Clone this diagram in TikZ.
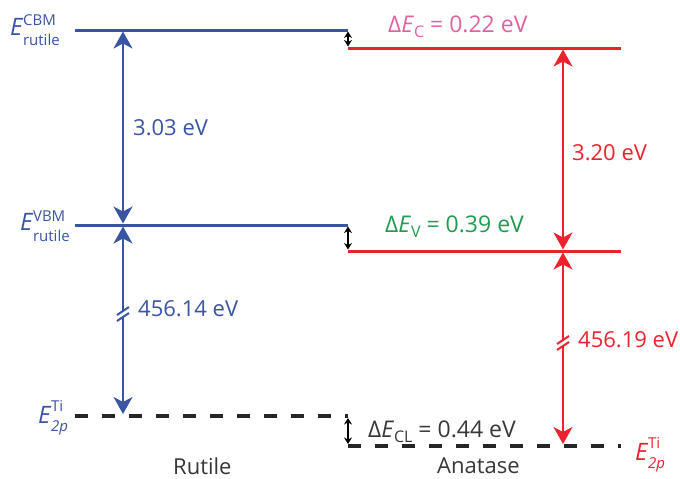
\documentclass[tikz,border=0pt]{standalone}
\usepackage{fontspec}
\setmainfont{Open Sans}
\usetikzlibrary{arrows.meta}
\definecolor{rblue}{RGB}{58,84,164}
\definecolor{ared}{RGB}{236,34,46}
\definecolor{cpink}{RGB}{222,98,160}
\definecolor{vgreen}{RGB}{34,154,80}
\definecolor{tgray}{RGB}{55,55,55}
\newcommand{\elab}[3]{{\fontsize{24}{26}\selectfont\itshape E}\hspace{0.5pt}\raisebox{-#3}{\fontsize{15}{20}\selectfont\begin{tabular}[b]{@{}l@{}}#1\\#2\end{tabular}}}
\newcommand{\dsub}[1]{\raisebox{-5pt}{\fontsize{16}{16}\selectfont #1}}
\tikzset{
 level/.style={line width=3pt},
 corelevel/.style={line width=3.5pt, dash pattern=on 13pt off 14pt, black!85},
 shaft/.style={line width=2pt},
 bothtips/.style={{Stealth[length=17pt,width=19pt,inset=5pt]}-{Stealth[length=17pt,width=19pt,inset=5pt]}},
 toptip/.style={{Stealth[length=17pt,width=19pt,inset=5pt]}-},
 bottip/.style={-{Stealth[length=17pt,width=19pt,inset=5pt]}},
 smallarrow/.style={line width=1.4pt, black, {Stealth[length=6.5pt,width=8pt]}-{Stealth[length=6.5pt,width=8pt]}},
 lbl/.style={font=\fontsize{22}{26}\selectfont, inner sep=0pt},
 dlbl/.style={font=\fontsize{23}{26}\selectfont, inner sep=0pt},
 brk/.style={line width=2pt},
}
\begin{document}
\begin{tikzpicture}[x=1pt,y=-1pt]
\useasboundingbox (0,0) rectangle (680,479);
% level coordinates
\coordinate (rcL) at (75,30);   \coordinate (rcR) at (348,30);
\coordinate (acL) at (348,48);  \coordinate (acR) at (621,48);
\coordinate (rvL) at (75,225);  \coordinate (rvR) at (348,225);
\coordinate (avL) at (348,251); \coordinate (avR) at (621,251);
\coordinate (rtL) at (75,416);  \coordinate (rtR) at (348,416);
\coordinate (atL) at (348,446); \coordinate (atR) at (621,446);
% levels
\draw[level, rblue] (rcL) -- (rcR);
\draw[level, ared] (acL) -- (acR);
\draw[level, rblue] (rvL) -- (rvR);
\draw[level, ared] (avL) -- (avR);
\draw[corelevel] (rtL) -- (rtR);
\draw[corelevel] (atL) -- (atR);
% small offset arrows
\coordinate (dc1) at (348,31.5); \coordinate (dc2) at (348,46.5);
\coordinate (dv1) at (348,226.5); \coordinate (dv2) at (348,249.5);
\coordinate (dl1) at (348,418); \coordinate (dl2) at (348,444);
\draw[smallarrow] (dc1) -- (dc2);
\draw[smallarrow] (dv1) -- (dv2);
\draw[smallarrow] (dl1) -- (dl2);
% rutile gap arrow
\coordinate (bA1) at (123,31.5); \coordinate (bA2) at (123,223.5);
\draw[shaft, rblue, bothtips] (bA1) -- (bA2);
% rutile core arrow with break
\coordinate (bB1) at (123,226.5); \coordinate (bB2) at (123,311);
\coordinate (bB3) at (123,317); \coordinate (bB4) at (123,414);
\draw[shaft, rblue, toptip] (bB1) -- (bB2);
\draw[shaft, rblue, bottip] (bB3) -- (bB4);
\coordinate (bs1a) at (117,315); \coordinate (bs1b) at (129,307);
\coordinate (bs2a) at (117,321); \coordinate (bs2b) at (129,313);
\draw[brk, rblue] (bs1a) -- (bs1b);
\draw[brk, rblue] (bs2a) -- (bs2b);
% anatase gap arrow
\coordinate (rA1) at (563,49.5); \coordinate (rA2) at (563,249.5);
\draw[shaft, ared, bothtips] (rA1) -- (rA2);
% anatase core arrow with break
\coordinate (rB1) at (563,252.5); \coordinate (rB2) at (563,340);
\coordinate (rB3) at (563,346); \coordinate (rB4) at (563,444);
\draw[shaft, ared, toptip] (rB1) -- (rB2);
\draw[shaft, ared, bottip] (rB3) -- (rB4);
\coordinate (rs1a) at (557,344); \coordinate (rs1b) at (569,336);
\coordinate (rs2a) at (557,350); \coordinate (rs2b) at (569,342);
\draw[brk, ared] (rs1a) -- (rs1b);
\draw[brk, ared] (rs2a) -- (rs2b);
% labels
\node[lbl, rblue, anchor=base west] (lcbm) at (10,35) {\elab{CBM}{rutile}{10pt}};
\node[lbl, rblue, anchor=base west] (lvbm) at (20,230) {\elab{VBM}{rutile}{11pt}};
\node[lbl, rblue, anchor=base west] (lti1) at (38,423) {\elab{Ti}{\itshape 2p}{8pt}};
\node[lbl, ared, anchor=base west] (lti2) at (635,460) {\elab{Ti}{\itshape 2p}{8pt}};
\node[lbl, rblue, anchor=base west] (l303) at (133,135) {3.03 eV};
\node[lbl, ared, anchor=base west] (l320) at (572,160) {3.20 eV};
\node[lbl, rblue, anchor=base west] (l45614) at (138,316) {456.14 eV};
\node[lbl, ared, anchor=base west] (l45619) at (578,347) {456.19 eV};
\node[dlbl, cpink, anchor=base west] (ldc) at (388,32) {Δ\textit{E}\dsub{C} = 0.22 eV};
\node[dlbl, vgreen, anchor=base west] (ldv) at (385,232) {Δ\textit{E}\dsub{V} = 0.39 eV};
\node[dlbl, tgray, anchor=base west] (ldcl) at (368,437) {Δ\textit{E}\dsub{CL} = 0.44 eV};
\node[lbl, tgray, anchor=base west] (lrut) at (173,474) {Rutile};
\node[lbl, tgray, anchor=base west] (lana) at (437,473) {Anatase};
\end{tikzpicture}
\end{document}
